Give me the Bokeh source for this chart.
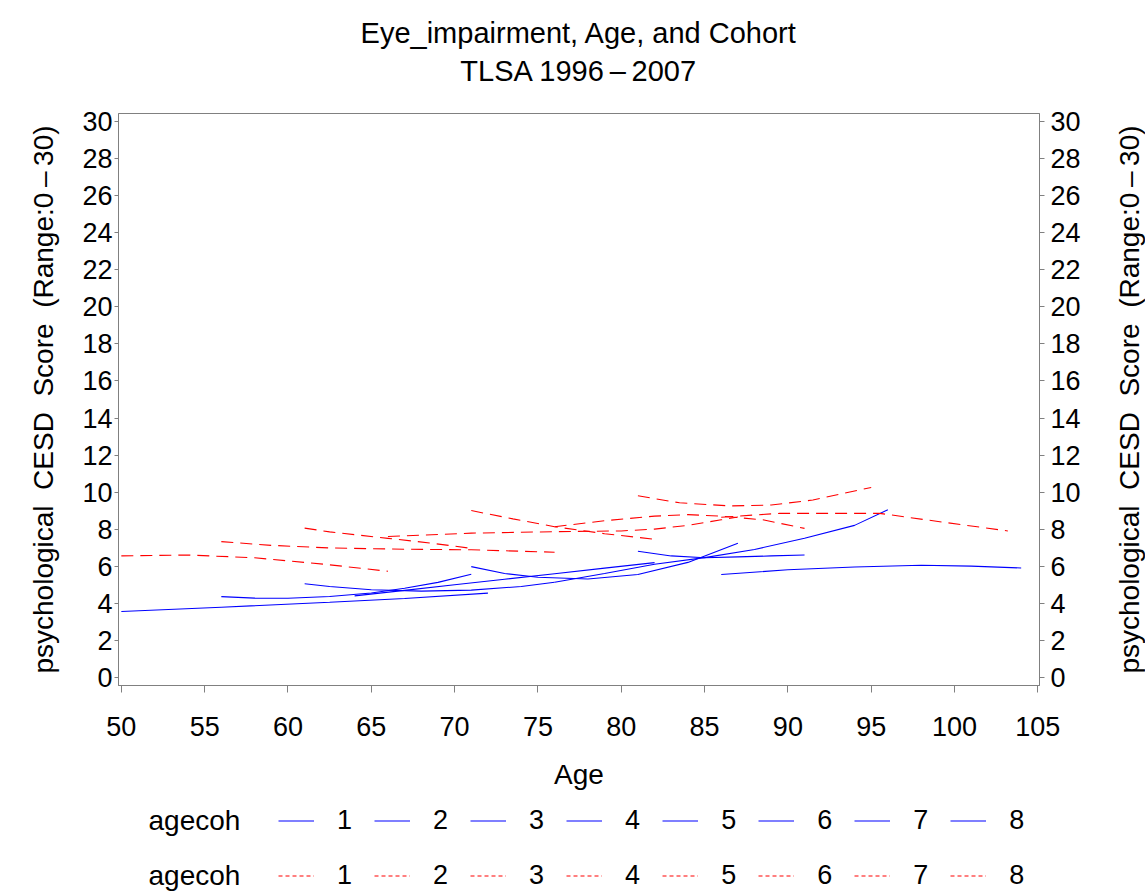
import numpy as np
from bokeh.plotting import figure
from bokeh.layouts import column, row
from bokeh.models import (Range1d, LinearAxis, Label, Legend, LegendItem,
                          FixedTicker)
from bokeh.embed import file_html
from bokeh.resources import INLINE

# ---------------- data ----------------
cohorts = ["1", "2", "3", "4", "5", "6", "7", "8"]

blue_ages = [
    [50, 56, 62.5, 67, 72],
    [56, 58, 60, 62.5, 65, 67, 69, 71],
    [61, 62.5, 65, 68, 71, 74, 76],
    [64, 67, 70, 73, 76, 79, 82],
    [71, 73, 75, 78, 81, 84, 87],
    [76, 79, 82, 85, 88, 91, 94, 96],
    [81, 83, 85, 87, 89, 91],
    [86, 90, 94, 98, 101, 104],
]
blue_vals = [
    [3.55, 3.78, 4.05, 4.25, 4.54],
    [4.35, 4.27, 4.26, 4.36, 4.55, 4.8, 5.12, 5.56],
    [5.05, 4.9, 4.72, 4.65, 4.7, 4.9, 5.13],
    [4.39, 4.69, 4.99, 5.29, 5.59, 5.89, 6.19],
    [5.97, 5.6, 5.4, 5.3, 5.55, 6.2, 7.23],
    [5.13, 5.6, 6.1, 6.46, 6.9, 7.5, 8.2, 9.05],
    [6.8, 6.55, 6.45, 6.5, 6.55, 6.6],
    [5.55, 5.8, 5.95, 6.05, 6.0, 5.9],
]

red_ages = [
    [50, 54, 58, 61, 62.5, 66],
    [56, 59, 62.5, 67, 71, 76],
    [61, 62.5, 66, 68.5, 71],
    [66, 71, 76, 80, 82, 84, 86, 87],
    [71, 73.5, 76, 79, 82],
    [76, 79, 82, 84, 86, 88.5, 91],
    [81, 83.5, 86.5, 89, 91.5, 95],
    [86, 89.5, 95.5, 99.5, 103.2],
]
red_vals = [
    [6.55, 6.6, 6.45, 6.2, 6.07, 5.72],
    [7.32, 7.12, 6.98, 6.91, 6.88, 6.75],
    [8.05, 7.85, 7.5, 7.25, 6.96],
    [7.6, 7.78, 7.86, 7.9, 8.0, 8.2, 8.5, 8.65],
    [9.0, 8.55, 8.13, 7.75, 7.45],
    [8.13, 8.45, 8.7, 8.78, 8.7, 8.5, 8.04],
    [9.8, 9.42, 9.25, 9.3, 9.57, 10.25],
    [8.64, 8.85, 8.85, 8.35, 7.9],
]

x_ticks = [50, 55, 60, 65, 70, 75, 80, 85, 90, 95, 100, 105]
y_ticks = list(range(0, 31, 2))

title_1 = "Eye_impairment, Age, and Cohort"
title_2 = "TLSA 1996\u2009\u2013\u20092007"
x_label = "Age"
y_label = "psychological \u00a0CESD \u00a0Score \u00a0(Range:0\u2009\u2013\u200930)"
legend_title = "agecoh"

# ---------------- styling ----------------
FONT = "Liberation Sans"
GRAY = "#808080"
BLUE = "#0000ff"
RED = "#ff0000"

W_ALL, H_ALL = 1145, 892
W = 1105                      # left block; the rest holds the right title
H_TOP, H_MAIN, H_LEG = 103, 689, 100
FRAME_L, FRAME_R = 118, 1039
FRAME_T, FRAME_B = 113, 685
FW = FRAME_R - FRAME_L

def strip(w, h):
    f = figure(width=w, height=h, output_backend="svg", toolbar_location=None,
               x_range=Range1d(0, w), y_range=Range1d(0, h),
               x_axis_type=None, y_axis_type=None, min_border=0)
    f.grid.visible = False
    f.outline_line_color = None
    f.background_fill_color = "white"
    f.border_fill_color = "white"
    return f

# ---------------- header (two-line title) ----------------
top = strip(W, H_TOP)
for txt, yc in [(title_1, H_TOP - 32), (title_2, H_TOP - 70)]:
    top.add_layout(Label(x=FW / 2, y=yc, x_units="screen", y_units="screen",
                         text=txt, text_font=FONT, text_font_size="29px",
                         text_align="center", text_baseline="middle",
                         text_color="black"))

# ---------------- main plot ----------------
p = figure(width=W, height=H_MAIN, output_backend="svg", toolbar_location=None,
           x_range=Range1d(49.83, 105.1), y_range=Range1d(-0.45, 30.45),
           min_border_left=FRAME_L, min_border_right=W - FRAME_R,
           min_border_top=FRAME_T - H_TOP,
           min_border_bottom=H_MAIN - (FRAME_B - H_TOP))
p.grid.visible = False
p.outline_line_color = GRAY
p.outline_line_width = 1
p.background_fill_color = "white"
p.border_fill_color = "white"

def style_axis(ax, ticks, tick_len):
    ax.ticker = FixedTicker(ticks=ticks)
    ax.axis_line_color = GRAY
    ax.major_tick_line_color = GRAY
    ax.major_tick_out = tick_len
    ax.major_tick_in = 0
    ax.minor_tick_line_color = None
    ax.major_label_text_font = FONT
    ax.major_label_text_font_size = "27px"
    ax.major_label_text_color = "black"
    ax.axis_label_text_font = FONT
    ax.axis_label_text_font_size = "28px"
    ax.axis_label_text_font_style = "normal"
    ax.axis_label_text_color = "black"

style_axis(p.xaxis[0], x_ticks, 7)
p.xaxis[0].axis_label = x_label
p.xaxis[0].major_label_standoff = 24
p.xaxis[0].axis_label_standoff = 20

style_axis(p.yaxis[0], y_ticks, 4)
p.yaxis[0].axis_label = y_label
p.yaxis[0].major_label_standoff = 2
p.yaxis[0].axis_label_standoff = 20

right_ax = LinearAxis()
style_axis(right_ax, y_ticks, 5)
right_ax.major_label_standoff = 6
p.add_layout(right_ax, "right")

for i in range(len(cohorts)):
    p.line(blue_ages[i], blue_vals[i], line_color=BLUE, line_width=1.1)
    p.line(red_ages[i], red_vals[i], line_color=RED, line_width=1.1,
           line_dash="12 7")

# ---------------- legend strip ----------------
leg = strip(W, H_LEG)
blue_items, red_items = [], []
for i, c in enumerate(cohorts):
    lb = leg.line(blue_ages[i], blue_vals[i], line_color=BLUE, line_width=1.1,
                  visible=False)
    lr = leg.line(red_ages[i], red_vals[i], line_color=RED, line_width=1.1,
                  line_dash="4 3", visible=False)
    blue_items.append(LegendItem(label=c, renderers=[lb]))
    red_items.append(LegendItem(label=c, renderers=[lr]))

ROW1, ROW2 = 72, 17
for items, yc in [(blue_items, ROW1), (red_items, ROW2)]:
    lg = Legend(items=items, orientation="horizontal",
                location=(278 - FRAME_L, yc - 15.5),
                glyph_width=36, glyph_height=31, label_height=31,
                label_standoff=23, spacing=22, padding=0, margin=0,
                label_width=15, border_line_color=None,
                background_fill_alpha=0, inactive_fill_alpha=0,
                label_text_font=FONT, label_text_font_size="27px",
                label_text_color="black", label_text_baseline="middle")
    leg.add_layout(lg, "center")
    leg.add_layout(Label(x=148 - FRAME_L, y=yc, x_units="screen",
                         y_units="screen", text=legend_title, text_font=FONT,
                         text_font_size="28px", text_baseline="middle",
                         text_align="left", text_color="black"))

# ---------------- right-hand axis title (reads bottom to top) ----------------
RW = W_ALL - W
rs = figure(width=RW, height=H_ALL, output_backend="svg", toolbar_location=None,
            x_range=Range1d(0, 1), y_range=Range1d(-0.45, 30.45),
            x_axis_type=None, min_border_left=RW - 1, min_border_right=0,
            min_border_top=FRAME_T, min_border_bottom=H_ALL - FRAME_B)
rs.grid.visible = False
rs.outline_line_color = None
rs.background_fill_color = "white"
rs.border_fill_color = "white"
ry = rs.yaxis[0]
ry.ticker = FixedTicker(ticks=[])
ry.axis_label = y_label
ry.axis_label_text_font = FONT
ry.axis_label_text_font_size = "28px"
ry.axis_label_text_font_style = "normal"
ry.axis_label_text_color = "black"
ry.axis_label_standoff = 0
ry.axis_line_color = None
ry.major_tick_line_color = None
ry.minor_tick_line_color = None
ry.major_label_standoff = 0
ry.major_tick_out = 0
ry.major_tick_in = 0

layout = row(column(top, p, leg, spacing=0), rs, spacing=0)
open("out.html", "w").write(file_html(layout, INLINE))
